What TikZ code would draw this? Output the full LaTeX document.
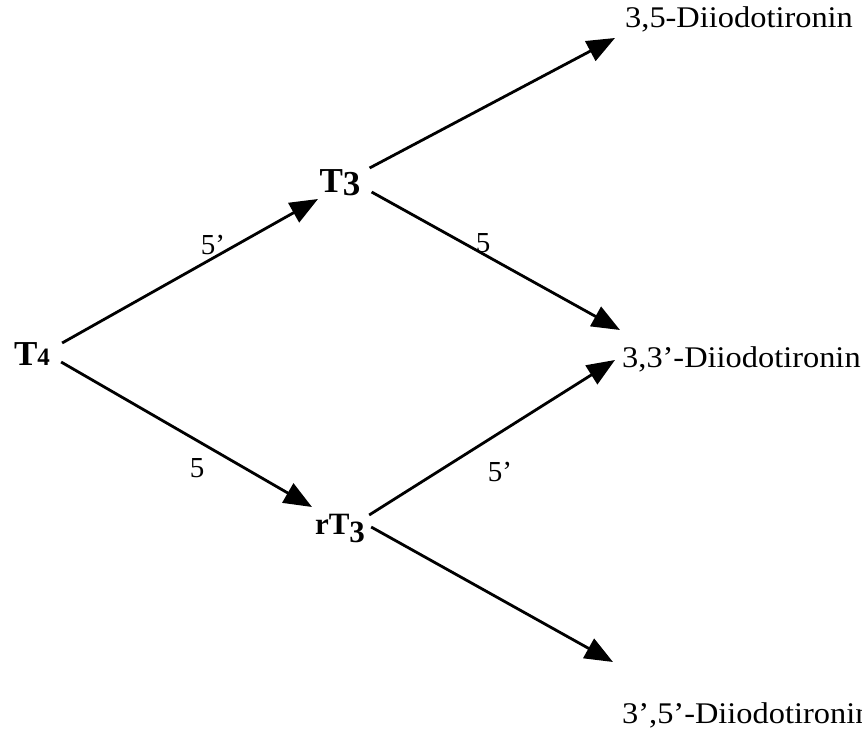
\documentclass[tikz,border=0pt]{standalone}
\usepackage{fontspec}
\setmainfont{Liberation Serif}
\newfontfamily\productfont[FakeStretch=1.08]{Liberation Serif}
\usetikzlibrary{arrows.meta}
\tikzset{
  hormone/.style={
    font=\bfseries\fontsize{35}{35}\selectfont,
    inner sep=0pt
  },
  product/.style={
    font=\productfont\fontsize{30}{30}\selectfont,
    anchor=base west,
    inner sep=0pt
  },
  site/.style={
    font=\fontsize{29}{29}\selectfont,
    inner sep=0pt
  },
  arrow/.style={
    -{Triangle[length=28pt,width=22pt]},
    line width=2.8pt
  }
}

\begin{document}
\begin{tikzpicture}[x=1pt,y=-1pt]
\useasboundingbox (0,0) rectangle (862,730);
% hormones
\node[hormone] (t4) at (32,354) {T{\fontsize{25}{25}\selectfont 4}};
\node[hormone] (t3) at (340,183) {T\raisebox{-3pt}{3}};
\node[hormone, font=\bfseries\fontsize{31}{31}\selectfont] (rt3) at (340,528) {rT\raisebox{-8pt}{3}};
% products
\node[product] (d35) at (625,28) {3,5-Diiodotironin};
\node[product] (d33) at (622,367) {3,3’-Diiodotironin};
\node[product] (d355) at (622,723) {3’,5’-Diiodotironin};
% arrow tips
\coordinate (t3in) at (318,199);
\coordinate (rt3in) at (312,507);
\coordinate (d35in) at (615,38);
\coordinate (d33inA) at (620,330);
\coordinate (d33inB) at (615,360);
\coordinate (d355in) at (613,662);
% deiodination steps
\draw[arrow] ([xshift=12pt,yshift=11pt]t4.east) -- (t3in);
\draw[arrow] ([xshift=11pt,yshift=-8pt]t4.east) -- (rt3in);
\draw[arrow] ([xshift=9pt,yshift=15pt]t3.east) -- (d35in);
\draw[arrow] ([xshift=11pt,yshift=-9pt]t3.east) -- (d33inA);
\draw[arrow] ([xshift=4pt,yshift=13pt]rt3.east) -- (d33inB);
\draw[arrow] ([xshift=6pt,yshift=1pt]rt3.east) -- (d355in);
% positions
\node[site] (s1) at (213,245) {5’};
\node[site] (s2) at (197,468) {5};
\node[site] (s3) at (483,243) {5};
\node[site] (s4) at (500,472) {5’};
\end{tikzpicture}
\end{document}
